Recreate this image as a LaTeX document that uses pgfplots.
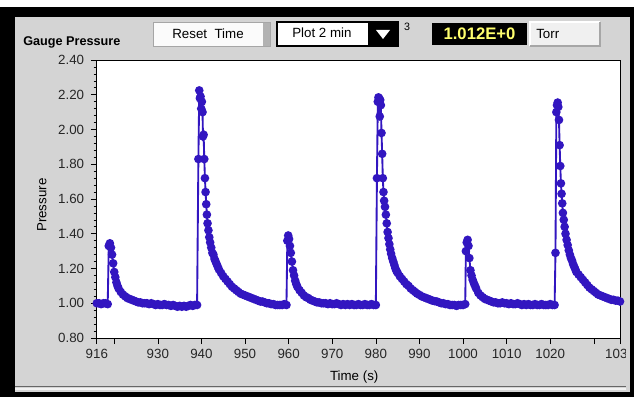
\documentclass[border=0pt]{standalone}
\usepackage{pgfplots}
\pgfplotsset{compat=1.18}
\usepackage{fontspec}
\setmainfont{Liberation Sans}
\definecolor{panel}{RGB}{212,212,212}
\definecolor{mkblue}{RGB}{50,22,192}
\definecolor{numyel}{RGB}{255,255,110}
\begin{document}
\begin{tikzpicture}[x=0.75pt,y=0.75pt]
\path[use as bounding box] (0,0) rectangle (634,397);
% frame
\fill[black] (0,0) rectangle (634,397);
\fill[white] (0,390) rectangle (634,397);
\fill[panel] (15,5) rectangle (630,380);
\draw[gray!80!black, line width=1.2pt] (15,10.5) -- (630,10.5);
\draw[white!90!gray, line width=1pt] (15,8) -- (630,8);
% header
\node[anchor=base west, inner sep=0pt, font=\fontsize{9.5}{11}\selectfont\bfseries] at (23,351) {Gauge Pressure};
\fill[white!97!gray] (153,351) rectangle (270,375);
\fill[gray!60] (263,351) rectangle (270,375);
\draw[gray!70, line width=0.6pt] (153,351) rectangle (270,375);
\node[font=\fontsize{10}{12}\selectfont, inner sep=0pt] at (208,363) {Reset\ \ Time};
\fill[white] (277,351) rectangle (398,375);
\fill[black] (368,351) rectangle (398,375);
\draw[black, line width=0.8pt] (277,351) rectangle (398,375);
\fill[white] (376,367) -- (390,367) -- (383,358) -- cycle;
\node[anchor=west, font=\fontsize{10}{12}\selectfont, inner sep=0pt] at (292,364) {Plot 2 min};
\node[font=\fontsize{8}{10}\selectfont, inner sep=0pt] at (407,370) {3};
\fill[black] (432,352) rectangle (527,374);
\node[font=\fontsize{12.5}{14}\selectfont\bfseries, text=numyel, inner sep=0pt] at (479.5,363) {1.012E+0};
\fill[white!88!gray] (530,351) rectangle (600,375);
\draw[white, line width=0.8pt] (530,351) -- (530,375) -- (600,375);
\draw[gray!70, line width=0.8pt] (530,351) -- (600,351) -- (600,375);
\node[anchor=west, font=\fontsize{10}{12}\selectfont, inner sep=0pt] at (536,363) {Torr};
% axis
\begin{axis}[
  at={(72.6pt,44.25pt)}, anchor=south west,
  scale only axis, width=392.4pt, height=208.5pt,
  xmin=916, xmax=1036, ymin=0.8, ymax=2.4,
  axis background/.style={fill=white},
  axis line style={black, line width=0.5pt},
  tick style={black, line width=0.5pt},
  tick align=outside, xtick pos=lower, ytick pos=left,
  major tick length=4.5pt, minor tick length=2.4pt,
  xtick={916,920,930,940,950,960,970,980,990,1000,1010,1020,1030,1036},
  xticklabels={916,,930,940,950,960,970,980,990,1000,1010,1020,,1036},
  ytick={0.8,1.0,1.2,1.4,1.6,1.8,2.0,2.2,2.4},
  yticklabels={0.80,1.00,1.20,1.40,1.60,1.80,2.00,2.20,2.40},
  minor y tick num=4,
  ticklabel style={font=\fontsize{10}{12}\selectfont, text=black!85},
  yticklabel style={xshift=-1.5pt},
  xlabel={Time (s)}, ylabel={Pressure},
  label style={font=\fontsize{10}{12}\selectfont},
  x label style={at={(axis description cs:0.492,-0.14)}, anchor=center},
  y label style={at={(axis description cs:-0.105,0.478)}, anchor=center},
]
\addplot[color=mkblue, line width=1.4pt, mark=*, mark size=2.5pt, mark options={solid}] table {
t v
916.0 1.00
916.5 1.00
917.0 0.995
917.5 1.00
918.0 1.00
918.5 0.995
918.75 1.33
919.0 1.345
919.25 1.32
919.5 1.28
919.75 1.23
920.0 1.18
920.25 1.15
920.5 1.12
920.75 1.10
921.0 1.085
921.5 1.065
922.0 1.05
922.5 1.04
923.0 1.03
923.5 1.025
924.0 1.02
924.5 1.015
925.0 1.01
925.5 1.005
926.0 1.005
926.5 1.00
927.0 1.00
927.5 1.00
928.0 0.995
928.5 1.00
929.0 0.995
929.5 0.99
930.0 0.995
930.5 0.99
931.0 0.99
931.5 0.995
932.0 0.99
932.5 0.99
933.0 0.985
933.5 0.99
934.0 0.985
934.5 0.98
935.0 0.985
935.5 0.98
936.0 0.985
936.5 0.98
937.0 0.985
937.5 0.99
938.0 0.985
938.5 0.99
939.0 0.99
939.3 1.83
939.5 2.225
939.65 2.18
939.8 2.19
939.95 2.12
940.1 2.16
940.25 2.10
940.35 1.96
940.5 1.97
940.65 1.83
940.8 1.72
940.95 1.64
941.1 1.57
941.25 1.51
941.4 1.46
941.6 1.42
941.8 1.38
942.0 1.35
942.25 1.32
942.5 1.29
942.75 1.28
943.0 1.255
943.25 1.24
943.5 1.225
943.75 1.21
944.0 1.195
944.5 1.175
945.0 1.155
945.5 1.14
946.0 1.125
946.5 1.11
947.0 1.095
947.5 1.085
948.0 1.075
948.5 1.065
949.0 1.055
949.5 1.05
950.0 1.045
950.5 1.04
951.0 1.035
951.5 1.03
952.0 1.025
952.5 1.02
953.0 1.015
953.5 1.01
954.0 1.01
954.5 1.005
955.0 1.00
955.5 1.00
956.0 0.995
956.5 0.995
957.0 0.99
957.5 0.99
958.0 0.99
958.5 0.99
959.0 0.995
959.5 0.99
959.7 1.36
959.9 1.39
960.1 1.37
960.3 1.33
960.5 1.29
960.75 1.24
961.0 1.19
961.25 1.16
961.5 1.13
961.75 1.11
962.0 1.095
962.5 1.075
963.0 1.06
963.5 1.045
964.0 1.035
964.5 1.03
965.0 1.02
965.5 1.015
966.0 1.01
966.5 1.005
967.0 1.005
967.5 1.00
968.0 1.00
968.5 1.00
969.0 0.995
969.5 1.00
970.0 0.995
970.5 0.995
971.0 1.00
971.5 0.995
972.0 0.99
972.5 0.995
973.0 0.99
973.5 0.995
974.0 0.99
974.5 0.995
975.0 0.99
975.5 0.99
976.0 0.995
976.5 0.99
977.0 0.99
977.5 0.995
978.0 0.99
978.5 0.99
979.0 0.995
979.5 0.99
980.0 0.99
980.25 1.72
980.45 2.16
980.6 2.185
980.75 2.18
980.9 2.075
981.0 2.17
981.15 2.14
981.3 1.98
981.45 1.86
981.6 1.72
981.75 1.64
981.9 1.59
982.1 1.555
982.3 1.51
982.5 1.46
982.7 1.41
982.9 1.375
983.1 1.34
983.3 1.31
983.5 1.285
983.75 1.26
984.0 1.24
984.25 1.22
984.5 1.20
984.75 1.185
985.0 1.175
985.5 1.155
986.0 1.14
986.5 1.125
987.0 1.11
987.5 1.10
988.0 1.085
988.5 1.075
989.0 1.065
989.5 1.055
990.0 1.048
990.5 1.04
991.0 1.035
991.5 1.03
992.0 1.025
992.5 1.02
993.0 1.015
993.5 1.012
994.0 1.01
994.5 1.005
995.0 1.00
995.5 1.00
996.0 0.995
996.5 0.995
997.0 0.99
997.5 0.99
998.0 0.99
998.5 0.985
999.0 0.99
999.5 0.99
1000.0 0.99
1000.5 0.995
1000.65 1.30
1000.85 1.35
1001.05 1.365
1001.25 1.33
1001.45 1.26
1001.7 1.19
1001.95 1.16
1002.2 1.135
1002.5 1.115
1002.75 1.10
1003.0 1.085
1003.5 1.06
1004.0 1.045
1004.5 1.035
1005.0 1.025
1005.5 1.02
1006.0 1.015
1006.5 1.01
1007.0 1.005
1007.5 1.005
1008.0 1.00
1008.5 1.00
1009.0 1.005
1009.5 1.00
1010.0 1.00
1010.5 0.995
1011.0 1.00
1011.5 0.995
1012.0 0.995
1012.5 1.00
1013.0 0.995
1013.5 0.99
1014.0 0.995
1014.5 0.99
1015.0 0.995
1015.5 0.99
1016.0 0.99
1016.5 0.995
1017.0 0.99
1017.5 0.99
1018.0 0.995
1018.5 0.99
1019.0 0.99
1019.5 0.99
1020.0 0.995
1020.5 0.99
1021.0 0.99
1021.2 1.29
1021.4 2.10
1021.55 2.14
1021.7 2.155
1021.85 2.13
1022.0 2.055
1022.15 1.91
1022.3 1.79
1022.45 1.69
1022.6 1.63
1022.75 1.575
1022.9 1.52
1023.1 1.48
1023.3 1.44
1023.5 1.40
1023.75 1.365
1024.0 1.335
1024.25 1.305
1024.5 1.28
1024.75 1.26
1025.0 1.245
1025.25 1.225
1025.5 1.21
1025.75 1.195
1026.0 1.18
1026.5 1.165
1027.0 1.15
1027.5 1.135
1028.0 1.12
1028.5 1.105
1029.0 1.09
1029.5 1.08
1030.0 1.07
1030.5 1.06
1031.0 1.05
1031.5 1.045
1032.0 1.04
1032.5 1.035
1033.0 1.03
1033.5 1.025
1034.0 1.02
1034.5 1.02
1035.0 1.015
1035.5 1.015
1036.0 1.01
};
\end{axis}
% right edge overlay
\fill[panel] (626,5) rectangle (630,380);
\fill[black] (630,0) rectangle (634,390);
\end{tikzpicture}
\end{document}
